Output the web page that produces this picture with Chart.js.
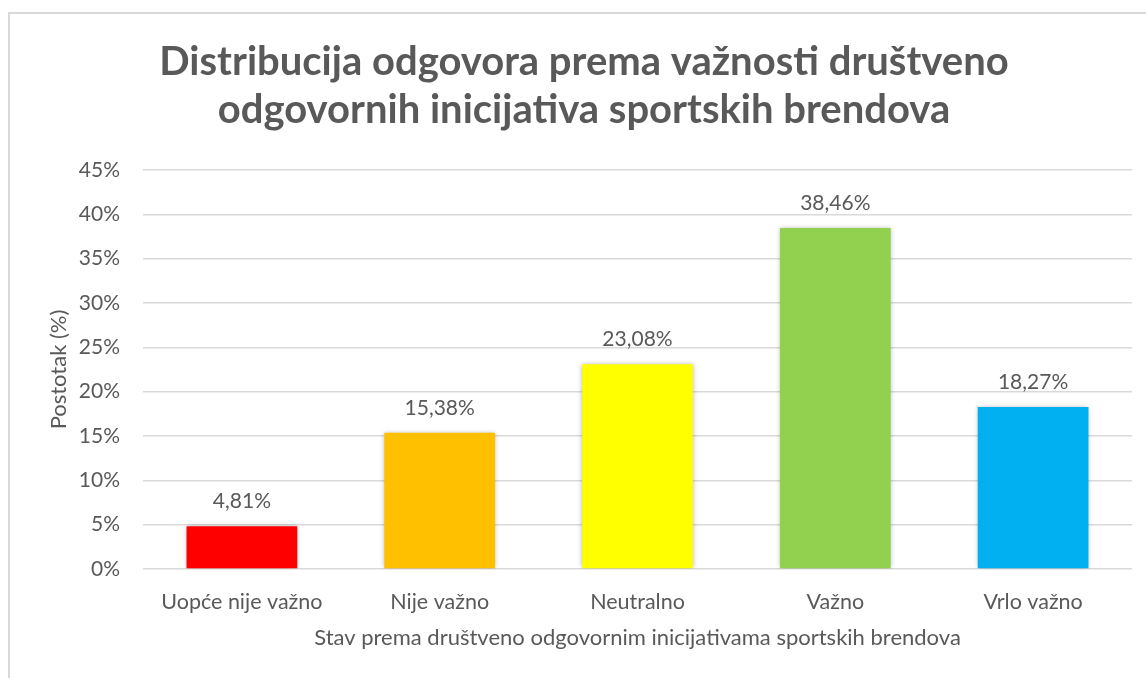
<!DOCTYPE html>
<html>
<head>
<meta charset="utf-8">
<title>Distribucija odgovora</title>
<script src="https://cdn.jsdelivr.net/npm/chart.js@4.4.1/dist/chart.umd.min.js"></script>
<style>
    html, body { margin: 0; padding: 0; background: #fff; overflow: hidden; }
    #frame {
        position: absolute; left: 8px; top: 12px; width: 1400px; height: 900px;
        border-top: 2px solid #d9d9d9; border-left: 2px solid #d9d9d9;
    }
    #wrap { position: absolute; left: 0; top: 0; width: 1146px; height: 678px; }
</style>
</head>
<body>
<div id="frame"></div>
<div id="wrap"><canvas id="chart"></canvas></div>
<script>
// Data
const categories = ['Uopće nije važno', 'Nije važno', 'Neutralno', 'Važno', 'Vrlo važno'];
const percentages = [4.81, 15.38, 23.08, 38.46, 18.27];
const barColors = ['#FF0000', '#FFC000', '#FFFF00', '#92D050', '#00B0F0'];
const yTicks = { min: 0, max: 45, step: 5 };

const TEXT = '#595959';
const FONT = 'Lato, "Open Sans", sans-serif';

// soft shadow behind the bars, like the Excel original
const barShadow = {
    id: 'barShadow',
    beforeDatasetsDraw(chart) {
        const ctx = chart.ctx;
        ctx.save();
        ctx.shadowColor = 'rgba(0,0,0,0.3)';
        ctx.shadowBlur = 5;
        ctx.shadowOffsetX = 0;
        ctx.shadowOffsetY = 0;
    },
    afterDatasetsDraw(chart) {
        chart.ctx.restore();
    }
};

// value labels above each bar (comma decimals)
const valueLabels = {
    id: 'valueLabels',
    afterDatasetsDraw(chart) {
        const ctx = chart.ctx;
        const meta = chart.getDatasetMeta(0);
        ctx.save();
        ctx.font = '21px ' + FONT;
        ctx.fillStyle = TEXT;
        ctx.textAlign = 'center';
        ctx.textBaseline = 'alphabetic';
        meta.data.forEach((bar, i) => {
            const txt = percentages[i].toFixed(2).replace('.', ',') + '%';
            ctx.fillText(txt, bar.x, bar.y - 18);
        });
        ctx.restore();
    }
};

function renderChart() {
    const ctx = document.getElementById('chart');
    new Chart(ctx, {
        type: 'bar',
        data: {
            labels: categories,
            datasets: [{
                data: percentages,
                backgroundColor: barColors,
                borderWidth: 0,
                categoryPercentage: 0.56,
                barPercentage: 1.0
            }]
        },
        options: {
            responsive: true,
            maintainAspectRatio: false,
            animation: false,
            layout: { padding: { left: 36, right: 14, top: 0, bottom: 0 } },
            plugins: {
                legend: { display: false },
                tooltip: { enabled: false },
                title: {
                    display: true,
                    text: ['Distribucija odgovora prema važnosti društveno', 'odgovornih inicijativa sportskih brendova'],
                    color: TEXT,
                    font: { family: FONT, size: 40, weight: 'bold', lineHeight: 1.2 },
                    padding: { top: 38, bottom: 36 }
                }
            },
            scales: {
                x: {
                    grid: { display: false, drawTicks: false },
                    border: { display: false },
                    ticks: { color: TEXT, font: { family: FONT, size: 21.5 }, padding: 20, maxRotation: 0 },
                    title: {
                        display: true,
                        text: 'Stav prema društveno odgovornim inicijativama sportskih brendova',
                        color: TEXT,
                        font: { family: FONT, size: 22 },
                        padding: { top: 0, bottom: 27 }
                    },
                    afterFit(scale) { scale.height = 109; }
                },
                y: {
                    min: yTicks.min,
                    max: yTicks.max,
                    grid: { color: '#d9d9d9', lineWidth: 1.5, drawTicks: false },
                    border: { display: false },
                    ticks: {
                        stepSize: yTicks.step,
                        color: TEXT,
                        font: { family: FONT, size: 21 },
                        padding: 23,
                        callback: v => v + '%'
                    },
                    title: {
                        display: true,
                        text: 'Postotak (%)',
                        color: TEXT,
                        font: { family: FONT, size: 22 },
                        padding: { top: 10, bottom: 0 }
                    },
                    afterFit(scale) { scale.width = 107; }
                }
            }
        },
        plugins: [barShadow, valueLabels]
    });
}

document.addEventListener('DOMContentLoaded', renderChart);
</script>
</body>
</html>
